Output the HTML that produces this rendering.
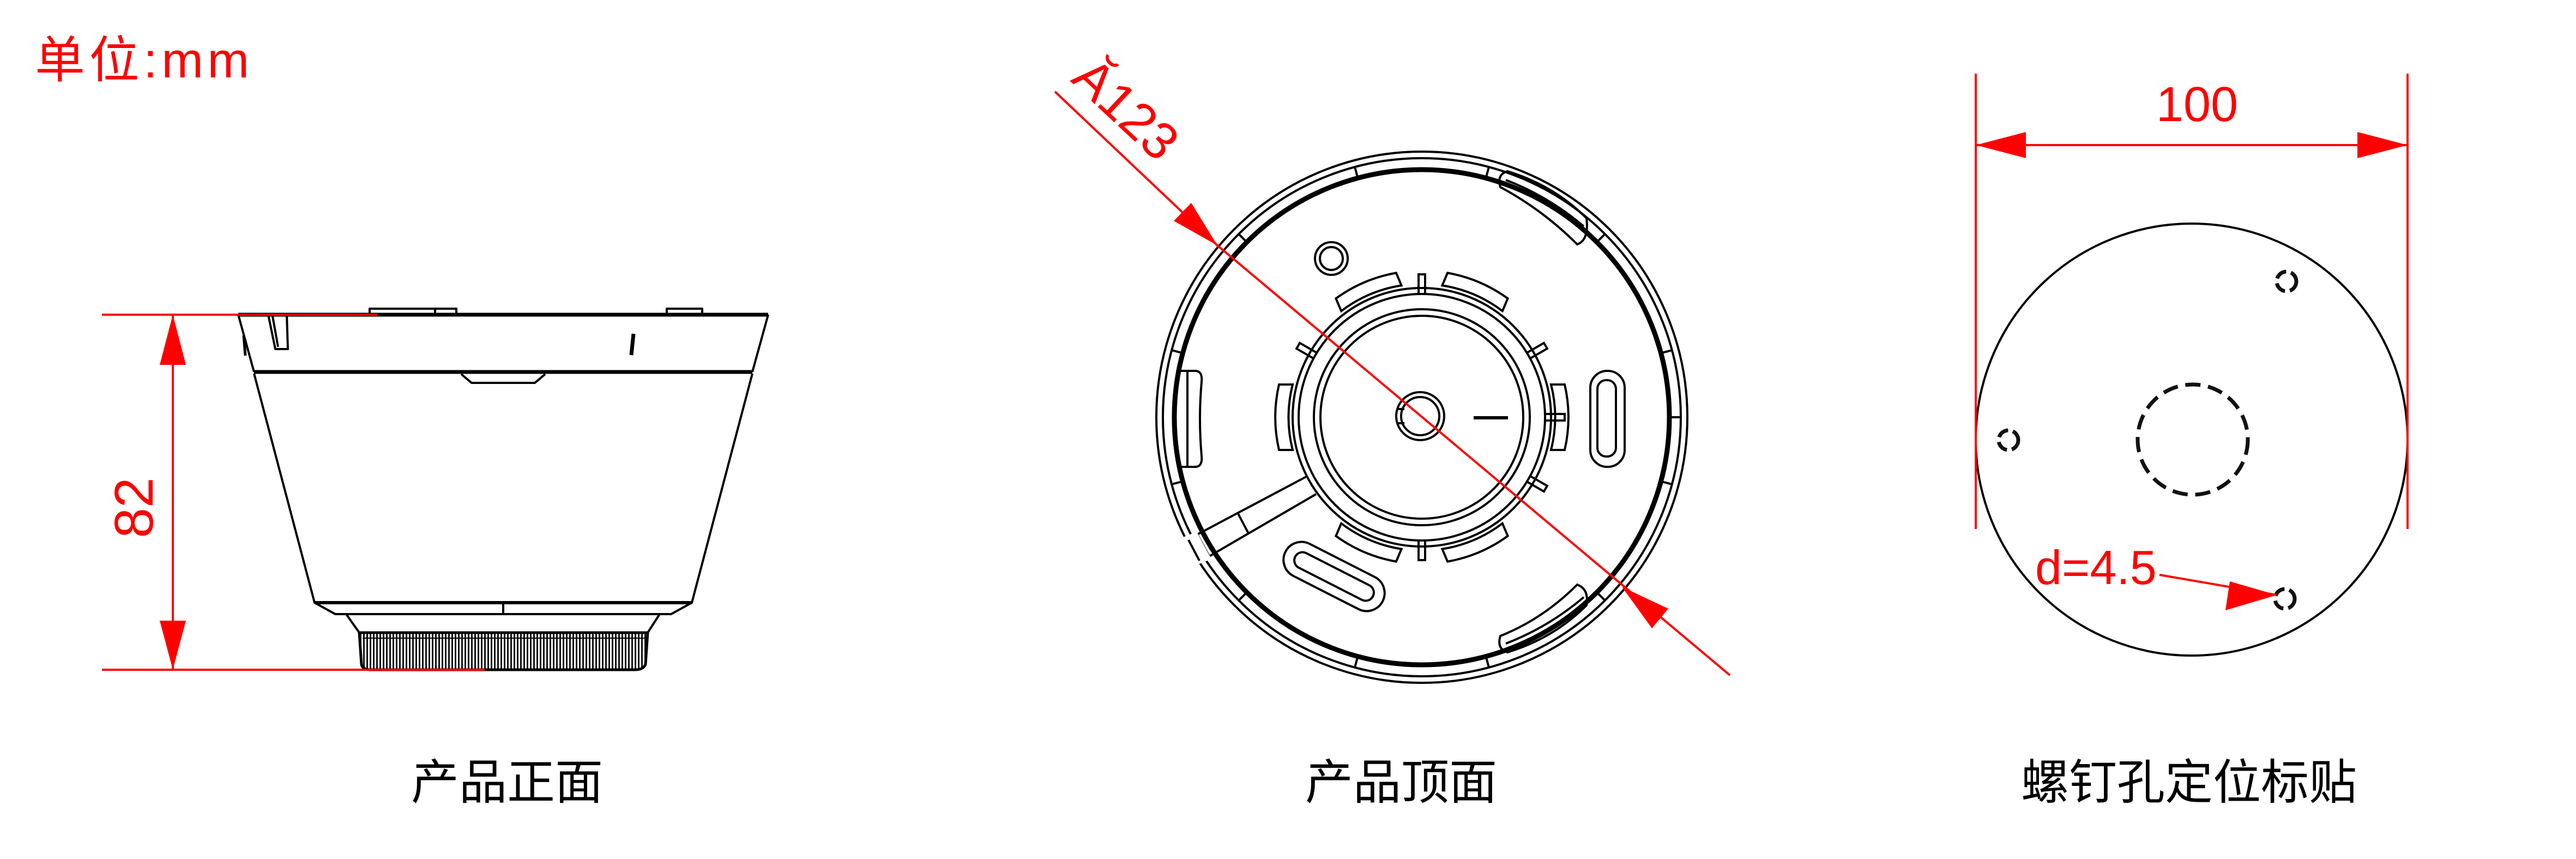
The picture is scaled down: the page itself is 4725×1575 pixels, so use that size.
<!DOCTYPE html>
<html><head><meta charset="utf-8"><style>
html,body{margin:0;padding:0;background:#fff;}
svg{display:block;}
text{font-family:"Liberation Sans","Noto Sans CJK SC",sans-serif;}
</style></head><body>
<svg width="4725" height="1575" viewBox="0 0 4725 1575" xmlns="http://www.w3.org/2000/svg">
<defs>
<pattern id="kn" width="6" height="80" patternUnits="userSpaceOnUse">
<rect width="6" height="80" fill="#fff"/><rect x="0" width="3" height="80" fill="#111"/>
</pattern>
</defs>

<!-- unit label -->
<text x="64" y="142" font-size="92" fill="#f00" textLength="393" lengthAdjust="spacing">单位:mm</text>

<!-- ===== LEFT: front view ===== -->
<g fill="none" stroke="#000" stroke-width="4" stroke-linejoin="round">
  <rect x="678" y="566" width="159" height="11"/>
  <line x1="798" y1="566" x2="798" y2="577"/>
  <rect x="1223" y="566" width="65" height="11"/>
  <line x1="437" y1="577" x2="1409" y2="577" stroke-width="7"/>
  <polyline points="437,577 466,682"/>
  <polyline points="1409,577 1380,682"/>
  <line x1="466" y1="682" x2="1380" y2="682" stroke-width="7"/>
  <polyline points="492,577 505,640 528,640 526,577"/>
  <line x1="500" y1="580" x2="510" y2="636"/>
  <line x1="447" y1="615" x2="450" y2="652" stroke-width="5"/>
  <line x1="1162" y1="612" x2="1158" y2="651" stroke-width="7"/>
  <polyline points="846,686 865,702 981,702 1000,686"/>
  <polyline points="466,685 577,1105 1269,1105 1380,685"/>
  <line x1="577" y1="1105" x2="1269" y2="1105" stroke-width="6"/>
  <polyline points="577,1105 615,1126 1231,1126 1269,1105"/>
  <line x1="923" y1="1105" x2="923" y2="1126"/>
  <polyline points="635,1126 659,1160"/>
  <polyline points="1210,1126 1188,1160"/>
</g>
<path d="M659,1160 L1188,1160 L1184,1218 Q1180,1228 1165,1228 L680,1228 Q665,1228 663,1218 Z" fill="url(#kn)" stroke="#000" stroke-width="5"/>
<line x1="665" y1="1170" x2="1182" y2="1170" stroke="#000" stroke-width="2"/>

<g stroke="#f00" stroke-width="4" fill="none">
  <line x1="187" y1="577" x2="692" y2="577"/>
  <line x1="187" y1="1228" x2="889" y2="1228"/>
  <line x1="317" y1="577" x2="317" y2="1228"/>
</g>
<polygon points="317,577 293,669 341,669" fill="#f00"/>
<polygon points="317,1228 293,1138 341,1138" fill="#f00"/>
<text x="0" y="0" font-size="100" fill="#f00" text-anchor="middle" transform="translate(280,931) rotate(-90)">82</text>

<!-- ===== MIDDLE: top view ===== -->
<g fill="none" stroke="#000" stroke-width="4">
  <circle cx="2608" cy="765" r="487"/>
  <circle cx="2608" cy="765" r="475"/>
  <circle cx="2608" cy="765" r="454" stroke-width="9"/>
  <g transform="translate(2608,765)">
    <g id="tk"><line x1="458" y1="0" x2="473" y2="0"/></g>
    <use href="#tk" transform="rotate(15)"/><use href="#tk" transform="rotate(45)"/>
    <use href="#tk" transform="rotate(75)"/><use href="#tk" transform="rotate(105)"/>
    <use href="#tk" transform="rotate(135)"/><use href="#tk" transform="rotate(165)"/>
    <use href="#tk" transform="rotate(195)"/><use href="#tk" transform="rotate(225)"/>
    <use href="#tk" transform="rotate(255)"/><use href="#tk" transform="rotate(285)"/>
    <use href="#tk" transform="rotate(315)"/><use href="#tk" transform="rotate(345)"/>
  </g>
  <circle cx="2608" cy="765" r="237"/>
  <circle cx="2608" cy="765" r="226"/>
  <circle cx="2608" cy="765" r="198"/>
  <circle cx="2608" cy="765" r="186"/>
  <g transform="translate(2608,765)">
    <g id="tab"><path d="M237,-60 A245,245 0 0,1 237,60 L262,60 A268,268 0 0,0 262,-60 Z" stroke-width="4"/></g>
    <use href="#tab" transform="rotate(180)"/>
    <use href="#tab" transform="rotate(-67)"/>
    <use href="#tab" transform="rotate(-113)"/>
    <use href="#tab" transform="rotate(67)"/>
    <use href="#tab" transform="rotate(113)"/>
    <g id="stb"><path d="M226,-6 L262,-6 L262,6 L226,6"/></g>
    <use href="#stb" transform="rotate(-90)"/>
    <use href="#stb" transform="rotate(90)"/>
    <use href="#stb" transform="rotate(-30)"/>
    <use href="#stb" transform="rotate(-150)"/>
    <use href="#stb" transform="rotate(30)"/>
  </g>
  <circle cx="2605" cy="763" r="44"/>
  <circle cx="2605" cy="763" r="35"/>
  <path d="M2563,750 L2576,750 M2563,776 L2576,776" />
  <circle cx="2442" cy="474" r="30"/>
  <circle cx="2442" cy="474" r="21"/>
  <rect x="2917" y="680" width="63" height="176" rx="31"/>
  <rect x="2930" y="697" width="34" height="140" rx="16"/>
  <path d="M2163,680 L2192,680 Q2206,680 2204,700 Q2198,768 2204,836 Q2206,856 2192,856 L2163,856"/>
  <line x1="2178" y1="682" x2="2178" y2="854"/>
  <path d="M2752,343 Q2745,320 2765,314 Q2850,340 2910,400 Q2915,440 2893,448 Q2830,385 2752,343 Z"/>
  <path d="M2762,330 Q2840,360 2905,415"/>
  <path d="M2752,1166 Q2745,1190 2765,1196 Q2850,1170 2910,1110 Q2915,1080 2893,1072 Q2830,1135 2752,1166 Z"/>
  <path d="M2762,1180 Q2840,1150 2905,1095"/>
  <g transform="translate(2447,1057) rotate(27)">
    <rect x="-100" y="-33" width="200" height="66" rx="33"/>
    <rect x="-80" y="-15" width="160" height="30" rx="15"/>
  </g>
  <line x1="2396" y1="874" x2="2196" y2="980"/>
  <line x1="2414" y1="906" x2="2218" y2="1020"/>
  <line x1="2270" y1="940" x2="2290" y2="978"/>
  <line x1="2196" y1="980" x2="2218" y2="1020"/>
  <line x1="2703" y1="766" x2="2766" y2="766" stroke-width="6"/>
</g>
<path d="M2170,985 L2195,975 L2222,1025 L2197,1035 Z" fill="#fff"/>
<g fill="none" stroke="#000" stroke-width="4">
  <line x1="2180" y1="990" x2="2200" y2="1028"/>
</g>

<polyline points="1935,168 2233,450 3173,1238" fill="none" stroke="#f00" stroke-width="4"/>
<polygon points="2233,450 2153,405 2185,372" fill="#f00"/>
<polygon points="2975,1076 3030,1152 3060,1116" fill="#f00"/>
<text x="0" y="0" font-size="95" fill="#f00" transform="translate(1962,148) rotate(43)">Ă123</text>

<!-- ===== RIGHT: sticker ===== -->
<circle cx="4020" cy="806" r="396" fill="none" stroke="#000" stroke-width="4"/>
<circle cx="4022" cy="806" r="101" fill="none" stroke="#111" stroke-width="7" stroke-dasharray="28,14"/>
<g fill="none" stroke="#111" stroke-width="7" stroke-dasharray="22,9">
  <circle cx="4194" cy="516" r="18"/>
  <circle cx="3684" cy="807" r="18"/>
  <circle cx="4191" cy="1098" r="18"/>
</g>
<g stroke="#f00" stroke-width="4" fill="none">
  <line x1="3624" y1="135" x2="3624" y2="970"/>
  <line x1="4416" y1="135" x2="4416" y2="970"/>
  <line x1="3624" y1="266" x2="4416" y2="266"/>
  <line x1="3961" y1="1054" x2="4176" y2="1091"/>
</g>
<polygon points="3624,266 3716,242 3716,290" fill="#f00"/>
<polygon points="4416,266 4324,242 4324,290" fill="#f00"/>
<polygon points="4176,1091 4082,1119 4090,1066" fill="#f00"/>
<text x="4030" y="222" font-size="90" fill="#f00" text-anchor="middle">100</text>
<text x="3733" y="1071" font-size="88" fill="#f00">d=4.5</text>

<text x="930" y="1465" font-size="88" fill="#000" text-anchor="middle">产品正面</text>
<text x="2570" y="1465" font-size="88" fill="#000" text-anchor="middle">产品顶面</text>
<text x="4015" y="1465" font-size="88" fill="#000" text-anchor="middle">螺钉孔定位标贴</text>
</svg>
</body></html>
